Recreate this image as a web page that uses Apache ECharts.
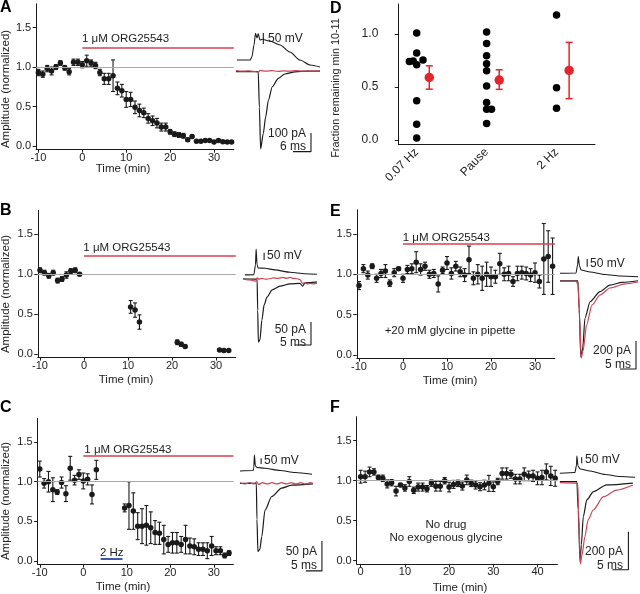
<!DOCTYPE html>
<html><head><meta charset="utf-8">
<script src="https://cdn.jsdelivr.net/npm/echarts@6/dist/echarts.min.js"></script>
<style>html,body{margin:0;padding:0;background:#fff}#c{width:640px;height:594px}</style>
</head><body><div id="c"></div>
<script>
// ---------------- DATA ----------------
const yTicks = [0, 0.5, 1.0, 1.5];
const xTicksMain = [-10, 0, 10, 20, 30];
const xTicksF = [0, 10, 20, 30, 40];

// Panel A
const timesA = [-10,-9,-8,-7,-6,-5,-4,-3,-2,-1,0,1,2,3,4,5,6,7,8,9,10,11,12,13,14,15,16,17,18,19,20,21,22,23,24,25,26,27,28,29,30,31,32,33,34];
const ampA = [0.93,0.91,0.98,0.95,1.00,1.05,0.99,0.94,1.06,1.06,1.03,1.08,1.05,1.02,0.93,0.85,0.85,0.89,0.73,0.70,0.59,0.59,0.49,0.45,0.42,0.35,0.32,0.29,0.24,0.24,0.18,0.15,0.14,0.13,0.08,0.12,0.06,0.06,0.07,0.07,0.05,0.07,0.055,0.05,0.05];
const errA = [0.04,0.04,0.04,0.05,0.03,0.03,0.03,0.04,0.04,0.04,0.04,0.07,0.04,0.04,0.04,0.07,0.07,0.20,0.08,0.08,0.10,0.09,0.08,0.08,0.06,0.06,0.06,0.06,0.05,0.05,0.03,0.03,0.03,0.03,0.02,0.02,0.01,0.01,0.01,0.01,0.01,0.01,0.01,0.01,0.01];

// Panel B
const timesB = [-10,-9,-8,-7,-6,-5,-4,-3,-2,-1,10.6,11.6,12.6,21.2,22.1,23.0,30.8,31.8,32.9];
const ampB = [1.05,1.02,0.98,1.02,0.92,0.94,0.99,1.04,1.05,1.00,0.59,0.55,0.40,0.146,0.12,0.092,0.05,0.042,0.042];
const errB = [0.03,0.03,0.03,0.03,0.03,0.03,0.04,0.03,0.03,0,0.08,0.09,0.09,0.03,0.025,0.015,0.01,0.01,0.01];

// Panel C
const timesC = [-10,-9,-8,-7,-6,-5,-4,-3,-2,-1,0,1,2,3,9.5,10.5,11.5,12.5,13.5,14.5,15.5,16.5,17.5,18.5,19.5,20.5,21.5,22.5,23.5,24.5,25.5,26.5,27.5,28.5,29.5,30.5,31.5,32.5,33.5];
const ampC = [1.16,0.98,1.00,0.90,0.87,0.99,0.85,1.17,1.02,1.09,1.01,1.03,0.84,1.15,0.67,0.70,0.63,0.44,0.44,0.45,0.42,0.36,0.35,0.27,0.21,0.23,0.23,0.21,0.27,0.19,0.18,0.15,0.15,0.13,0.19,0.13,0.13,0.07,0.10];
const errC = [0.10,0.06,0.13,0.15,0.03,0.07,0.10,0.15,0.06,0.06,0.10,0.07,0.12,0.12,0.05,0.30,0.23,0.17,0.22,0.25,0.20,0.15,0.14,0.18,0.10,0.13,0.13,0.10,0.18,0.10,0.10,0.08,0.08,0.10,0.12,0.05,0.05,0.03,0.03];
const pulse2Hz = {start: 4, end: 9, level: 0.025};

// Panel E
const timesE = [-10,-9,-8,-7,-6,-5,-4,-3,-2,-1,0,1,2,3,4,5,6,7,8,9,10,11,12,13,14,15,16,17,18,19,20,21,22,23,24,25,26,27,28,29,30,31,32,33,34];
const ampE = [0.86,1.07,0.99,1.10,0.95,1.01,1.04,0.89,1.02,1.07,0.95,1.06,1.07,1.15,1.06,1.10,1.00,1.01,0.88,1.05,1.14,1.01,1.10,1.03,0.99,1.18,0.95,1.00,0.95,1.00,0.97,0.97,1.13,1.00,1.01,0.91,1.01,1.02,1.01,0.99,1.02,0.91,1.19,1.22,1.10];
const errE = [0.05,0.05,0.05,0.03,0.05,0.05,0.08,0.04,0.05,0.02,0.05,0.05,0.06,0.13,0.07,0.05,0.05,0.05,0.10,0.04,0.08,0.07,0.06,0.06,0.08,0.17,0.08,0.12,0.15,0.15,0.12,0.08,0.13,0.08,0.09,0.06,0.09,0.08,0.08,0.08,0.12,0.08,0.44,0.32,0.35];

// Panel F
const timesF = [0,1,2,3,4,5,6,7,8,9,10,11,12,13,14,15,16,17,18,19,20,21,22,23,24,25,26,27,28,29,30,31,32,33,34,35,36,37,38,39,40,41,42,43,44];
const ampF = [1.05,1.05,1.11,1.11,1.04,1.03,0.96,0.975,0.87,0.946,0.91,0.99,0.88,0.92,0.92,0.90,0.97,0.93,0.93,1.00,0.92,0.954,0.967,0.933,1.01,0.967,0.946,0.925,0.946,0.967,0.925,0.99,1.09,1.09,1.08,1.02,1.02,1.08,1.06,1.06,1.03,1.04,1.11,1.06,1.03];
const errF = [0.08,0.07,0.06,0.04,0.03,0.04,0.05,0.04,0.06,0.02,0.04,0.06,0.04,0.05,0.05,0.04,0.04,0.06,0.06,0.04,0.06,0.05,0.04,0.05,0.06,0.04,0.05,0.05,0.06,0.10,0.06,0.04,0.07,0.07,0.05,0.06,0.06,0.08,0.06,0.07,0.08,0.09,0.10,0.12,0.10];

// Drug application (start time, drawn level)
const drugA = {start: 0, level: 1.25};
const drugB = {start: 0, level: 1.23};
const drugC = {start: 0, level: 1.33};
const drugE = {start: 0, level: 1.38};

// Panel D
const catD = ['0.07 Hz', 'Pause', '2 Hz'];
const slowD = [1.01,0.82,0.74,0.745,0.71,0.755,0.37,0.15,0.02];
const slowDjit = [0,0,-0.105,-0.05,0,0.09,0,0,0];
const pauseD = [1.02,0.91,0.795,0.72,0.654,0.51,0.355,0.29,0.29,0.157];
const pauseDjit = [0,0,0,0,0,0,0,0,0.07,0];
const fastD = [1.18,0.494,0.30];
const fastDjit = [0,0,0];
const meanD = [0.59,0.566,0.657];
const loD = [0.48,0.478,0.39];
const hiD = [0.70,0.663,0.921];

// Traces: [ms, mV] voltage, [ms, pA] currents
const traceA_V = [[0.3,-70],[4.7,-70],[5.3,-56],[6,-2],[6.5,51],[7,30],[7.4,50],[8,21],[8.7,24],[11.3,16],[14.7,-2],[18,-34],[21.3,-70],[24.7,-93],[28,-102]];
const traceA_black = [[0,-8],[7.4,-8],[7.8,-200],[8.2,-422],[9.1,-338],[9.9,-249],[10.8,-160],[12.1,-89],[14.1,-44],[16.3,-21],[19.7,-9],[24.1,-5],[28,-5]];
const traceA_red = [[0,-3],[2,-6],[4,-4],[6,-7],[7.4,-11],[8,-2],[10,-6],[12,-3],[14,-7],[16,-4],[18,-6],[20,-3],[22,-6],[24,-4],[26,-6],[28,-4]];

const traceB_V = [[0.6,-74],[3.4,-72],[3.9,-6],[4.1,103],[4.4,-6],[4.7,-27],[6.9,-29],[10,-40],[14.7,-56],[19.4,-66],[23.1,-70]];
const traceB_black = [[0,-1],[4.4,-2],[4.6,-70],[4.8,-139],[5.3,-134],[5.9,-91],[6.6,-58],[7.5,-41],[9.1,-25],[11.6,-17],[14.7,-12],[17.8,-11],[18.6,-17],[19.4,-10],[23.1,-8]];
const traceB_red = [[0,-1.5],[1,-3],[2.2,-3.7],[3,-5],[4.1,-6],[4.4,1],[5,-2],[5.9,0],[7,-2],[8.4,-1],[9.5,1],[11,0],[12.5,2],[13.5,0],[14.7,2],[15.5,0],[16.6,-0.5],[17.8,-2.6],[18.6,-11],[19.4,-10],[20.2,-12],[20.9,-11],[22,-12],[23.1,-11]];

const traceC_V = [[0,-70],[4.1,-66],[4.3,-44],[4.5,70],[4.8,-26],[5.3,-39],[7.8,-46],[12.5,-66],[17.2,-83],[22.5,-99]];
const traceC_black = [[0,0],[5.1,0],[5.3,-60],[5.6,-114],[6.2,-110],[6.8,-89],[7.8,-45],[9.9,-22],[13,-8],[16.2,-3],[22.8,-1]];
const traceC_red = [[0,1],[1.5,-1],[3,1],[4.5,-1],[5.2,3],[5.8,-2],[7,1],[8.5,-1],[10,1],[11.5,-1],[13,1],[14.5,-1],[16,1],[17.5,-1],[19,1],[20.5,-1],[22,1],[22.8,0]];

const traceE_V = [[0,-70],[5,-68],[5.5,-16],[5.7,38],[6.1,-23],[6.6,-49],[9.4,-62],[14.1,-78],[18.8,-88],[24.4,-92]];
const traceE_black = [[0,2],[5.6,2],[6.0,-200],[6.5,-543],[7.1,-480],[7.8,-266],[9.4,-148],[12.5,-76],[15.6,-29],[19.4,-10],[24.4,2]];
const traceE_red = [[0,-2],[5.1,-2],[5.3,-15],[5.6,-12],[6.1,-250],[6.6,-550],[7.2,-500],[8.3,-314],[10,-171],[12.5,-100],[15.6,-50],[20.3,-21],[24.4,-7]];

const traceF_V = [[0.6,-70],[5.3,-63],[5.8,-1],[5.9,74],[6.25,-9],[6.9,-34],[10,-51],[14.7,-80],[19.4,-97],[24.1,-103]];
const traceF_black = [[0.6,0],[5.9,0],[6.3,-150],[6.9,-422],[7.3,-332],[7.9,-184],[9,-96],[11,-53],[15.2,-17],[23.4,-7]];
const traceF_red = [[0.6,-5],[5.9,-7],[6.2,-17],[6.4,-150],[7.0,-433],[7.5,-386],[8.4,-289],[9.4,-201],[11,-149],[14.2,-79],[18.3,-44],[23.4,-17]];

const scaleA = {mV: 50, pA: 100, ms: 6};
const scaleB = {mV: 50, pA: 50, ms: 5};
const scaleC = {mV: 50, pA: 50, ms: 5};
const scaleE = {mV: 50, pA: 200, ms: 5};
const scaleF = {mV: 50, pA: 200, ms: 5};

// ---------------- STYLE / LAYOUT ----------------
const FONT = '"Liberation Sans", Arial, Helvetica, sans-serif';
const BLACK = '#1a1a1a', GRAY = '#a8a8a8', RED = '#d8414b', TRED = '#cc4453', DRED = '#e2262c', BLUE = '#3b5aa8', TXT = '#222';

const grids = [], xAxes = [], yAxes = [], series = [], graphics = [];

function axisStyle(ticks, fmt, margin, fs) {
  return {
    axisLine: {show: true, onZero: false, lineStyle: {color: BLACK, width: 1}},
    axisTick: {show: true, length: 3.5, customValues: ticks, lineStyle: {color: BLACK, width: 1}},
    axisLabel: {show: true, customValues: ticks, formatter: fmt, fontFamily: FONT, fontSize: fs, color: TXT, margin: margin},
    splitLine: {show: false}
  };
}

function errRender(capHalf, color, width) {
  return function (params, api) {
    const x = api.value(0), lo = api.value(1), hi = api.value(2);
    if (!(hi - lo > 0)) return null;
    const a = api.coord([x, hi]), b = api.coord([x, lo]);
    const st = {stroke: color, lineWidth: width};
    return {type: 'group', children: [
      {type: 'line', shape: {x1: a[0], y1: a[1], x2: b[0], y2: b[1]}, style: st},
      {type: 'line', shape: {x1: a[0] - capHalf, y1: a[1], x2: a[0] + capHalf, y2: a[1]}, style: st},
      {type: 'line', shape: {x1: b[0] - capHalf, y1: b[1], x2: b[0] + capHalf, y2: b[1]}, style: st}
    ]};
  };
}

function mainPanel(L, times, amp, err, drug, xticks, extraMarks) {
  const gi = grids.length;
  grids.push(L.grid);
  const xi = xAxes.length;
  xAxes.push(Object.assign({type: 'value', gridIndex: gi, min: L.x[0], max: L.x[1]}, axisStyle(xticks, v => String(v), 3, 11)));
  const yi = yAxes.length;
  yAxes.push(Object.assign({type: 'value', gridIndex: gi, min: -0.04, max: 1.8}, axisStyle(yTicks, v => v.toFixed(1), 5, 11)));
  const pts = times.map((t, i) => [t, amp[i]]);
  const bars = times.map((t, i) => [t, amp[i] - err[i], amp[i] + err[i]]);
  const ml = [{yAxis: 1, lineStyle: {color: GRAY, width: 1.2, type: 'solid'}}];
  if (drug) ml.push([{coord: [drug.start, drug.level], lineStyle: {color: RED, width: 1.6, type: 'solid'}}, {coord: [L.x[1], drug.level]}]);
  (extraMarks || []).forEach(m => ml.push(m));
  series.push({type: 'custom', xAxisIndex: xi, yAxisIndex: yi, renderItem: errRender(2, BLACK, 1.1), data: bars,
    encode: {x: 0, y: [1, 2]}, z: 2, silent: true,
    markLine: {silent: true, symbol: ['none', 'none'], label: {show: false}, data: ml}});
  series.push({type: 'scatter', xAxisIndex: xi, yAxisIndex: yi, data: pts, symbolSize: 5.5,
    itemStyle: {color: BLACK, opacity: 1}, z: 3, silent: true});
}

function tracePanel(T) {
  const gi = grids.length; grids.push(T.grid);
  const xi = xAxes.length; xAxes.push({type: 'value', gridIndex: gi, min: 0, max: T.ms, show: false});
  const yv = yAxes.length; yAxes.push({type: 'value', gridIndex: gi, min: T.mV[0], max: T.mV[1], show: false});
  const yi = yAxes.length; yAxes.push({type: 'value', gridIndex: gi, min: T.pA[0], max: T.pA[1], show: false});
  const ln = (data, y, color, w, smooth) => ({type: 'line', xAxisIndex: xi, yAxisIndex: y, data: data, showSymbol: false, symbol: 'none',
    smooth: smooth, smoothMonotone: 'x', lineStyle: {color: color, width: w}, clip: false, silent: true, z: 2});
  series.push(ln(T.V, yv, BLACK, 1.1, 0.25));
  series.push(ln(T.black, yi, BLACK, 1.2, 0.25));
  series.push(ln(T.red, yi, TRED, 1.2, 0.25));
  const s = T.scale, b = T.bars;
  series.push(ln([[b.vT, b.vTop], [b.vT, b.vTop - s.mV]], yv, BLACK, 1.1, false));
  series.push(ln([[b.iT - s.ms, b.iTop - s.pA], [b.iT, b.iTop - s.pA], [b.iT, b.iTop]], yi, BLACK, 1.1, false));
}

function txt(x, y, text, o) {
  o = o || {};
  graphics.push({type: 'text', x: x, y: y, rotation: o.rot || 0, silent: true, z: 10,
    style: {text: text, font: (o.bold ? 'bold ' : '') + (o.fs || 11.5) + 'px ' + FONT, fill: o.color || TXT,
      textAlign: o.align || 'left', align: o.align || 'left', textVerticalAlign: 'middle', verticalAlign: 'middle'}});
}

// ---------------- BUILD ----------------
mainPanel({grid: {left: 36.2, top: 3.8, width: 197.6, height: 145.4}, x: [-10.5, 34.5]}, timesA, ampA, errA, drugA, xTicksMain);
mainPanel({grid: {left: 37.8, top: 210.5, width: 198, height: 146.6}, x: [-10.5, 34.5]}, timesB, ampB, errB, drugB, xTicksMain);
mainPanel({grid: {left: 37.6, top: 418.3, width: 195.8, height: 145.9}, x: [-10.5, 34.5]}, timesC, ampC, errC, drugC, xTicksMain,
  [[{coord: [pulse2Hz.start, pulse2Hz.level], lineStyle: {color: BLUE, width: 2, type: 'solid'}}, {coord: [pulse2Hz.end, pulse2Hz.level]}]]);
mainPanel({grid: {left: 356.8, top: 209.8, width: 198, height: 148.3}, x: [-10.5, 34.5]}, timesE, ampE, errE, drugE, xTicksMain);
mainPanel({grid: {left: 356.7, top: 416.7, width: 200.7, height: 147.2}, x: [-0.9, 44.5]}, timesF, ampF, errF, null, xTicksF);

// Panel D
(function () {
  const gi = grids.length;
  grids.push({left: 398.3, top: 4, width: 196.7, height: 140.3});
  const xi = xAxes.length;
  const catPos = [1, 2, 3], meanOff = 0.18;
  xAxes.push({type: 'value', gridIndex: gi, min: 0.737, max: 3.55,
    axisLine: {show: true, onZero: false, lineStyle: {color: BLACK, width: 1}},
    axisTick: {show: false},
    axisLabel: {show: true, customValues: catPos, formatter: v => catD[Math.round(v) - 1], rotate: 45, margin: 6, fontFamily: FONT, fontSize: 12, color: TXT},
    splitLine: {show: false}});
  const yi = yAxes.length;
  yAxes.push(Object.assign({type: 'value', gridIndex: gi, min: -0.04, max: 1.283}, axisStyle([0, 0.5, 1.0], v => v.toFixed(1), 20, 12)));
  const groups = [[slowD, slowDjit], [pauseD, pauseDjit], [fastD, fastDjit]];
  const black = [];
  groups.forEach((g, k) => g[0].forEach((v, i) => black.push([catPos[k] + g[1][i], v])));
  series.push({type: 'scatter', xAxisIndex: xi, yAxisIndex: yi, data: black, symbolSize: 7.5,
    itemStyle: {color: '#000', opacity: 1}, z: 3, silent: true});
  series.push({type: 'custom', xAxisIndex: xi, yAxisIndex: yi, renderItem: errRender(3.5, DRED, 1.5),
    data: meanD.map((m, k) => [catPos[k] + meanOff, loD[k], hiD[k]]), encode: {x: 0, y: [1, 2]}, z: 2, silent: true});
  series.push({type: 'scatter', xAxisIndex: xi, yAxisIndex: yi, data: meanD.map((m, k) => [catPos[k] + meanOff, m]),
    symbolSize: 9.5, itemStyle: {color: DRED, opacity: 1}, z: 4, silent: true});
})();

// Traces
tracePanel({grid: {left: 236, top: 20, width: 84, height: 140}, ms: 28, mV: [-524.6, 111.8], pA: [-480.8, 267.9],
  V: traceA_V, black: traceA_black, red: traceA_red, scale: scaleA, bars: {vT: 9.1, vTop: 52.7, iT: 25, iTop: -336}});
tracePanel({grid: {left: 243, top: 235, width: 75, height: 115}, ms: 23.44, mV: [-588.5, 199.2], pA: [-155.9, 94.1],
  V: traceB_V, black: traceB_black, red: traceB_red, scale: scaleB, bars: {vT: 6.6, vTop: 78, iT: 21.25, iTop: -95}});
tracePanel({grid: {left: 240, top: 440, width: 85, height: 135}, ms: 26.56, mV: [-982.3, 201.9], pA: [-152.8, 72.2],
  V: traceC_V, black: traceC_black, red: traceC_red, scale: scaleC, bars: {vT: 6.6, vTop: 41.4, iT: 25.6, iTop: -96}});
tracePanel({grid: {left: 560, top: 240, width: 80, height: 135}, ms: 25, mV: [-730.4, 146.2], pA: [-671.4, 292.9],
  V: traceE_V, black: traceE_black, red: traceE_red, scale: scaleE, bars: {vT: 8.5, vTop: 22.9, iT: 23.75, iTop: -428.6}});
tracePanel({grid: {left: 558, top: 440, width: 80, height: 135}, ms: 25, mV: [-917.5, 207.5], pA: [-491, 219.5],
  V: traceF_V, black: traceF_black, red: traceF_red, scale: scaleF, bars: {vT: 7.4, vTop: 63.3, iT: 22, iTop: -263}});

// Texts
[['A', 0, 7.5], ['B', 0, 210.8], ['C', 0, 407.5], ['D', 330, 8.7], ['E', 330, 211.7], ['F', 330, 407.5]]
  .forEach(p => txt(p[1], p[2], p[0], {bold: true, fs: 16, color: '#000'}));
txt(6, 89, 'Amplitude (normalized)', {rot: Math.PI / 2, align: 'center', fs: 11.5});
txt(6, 294, 'Amplitude (normalized)', {rot: Math.PI / 2, align: 'center', fs: 11.5});
txt(6, 501, 'Amplitude (normalized)', {rot: Math.PI / 2, align: 'center', fs: 11.5});
txt(336, 88, 'Fraction remaining min 10-11', {rot: Math.PI / 2, align: 'center', fs: 10.8});
txt(123, 169, 'Time (min)', {align: 'center', fs: 11.5});
txt(126, 380, 'Time (min)', {align: 'center', fs: 11.5});
txt(123, 587, 'Time (min)', {align: 'center', fs: 11.5});
txt(450, 381, 'Time (min)', {align: 'center', fs: 11.5});
txt(460, 588, 'Time (min)', {align: 'center', fs: 11.5});
txt(82, 39, '1 μM ORG25543', {fs: 11.5});
txt(83.3, 248.3, '1 μM ORG25543', {fs: 11.5});
txt(84.3, 450, '1 μM ORG25543', {fs: 11.5});
txt(402.7, 237.7, '1 μM ORG25543', {fs: 11.5});
txt(111.7, 552.7, '2 Hz', {align: 'center', fs: 11.5});
txt(450, 331, '+20 mM glycine in pipette', {align: 'center', fs: 11.5});
txt(446, 525, 'No drug', {align: 'center', fs: 11.5});
txt(446, 538.3, 'No exogenous glycine', {align: 'center', fs: 11.5});
// trace scale labels
txt(268, 38.3, '50 mV', {fs: 12}); txt(306, 133.3, '100 pA', {align: 'right', fs: 12}); txt(306, 146.7, '6 ms', {align: 'right', fs: 12});
txt(267, 256, '50 mV', {fs: 12}); txt(306, 330, '50 pA', {align: 'right', fs: 12}); txt(306, 343, '5 ms', {align: 'right', fs: 12});
txt(264, 460.7, '50 mV', {fs: 12}); txt(317, 552, '50 pA', {align: 'right', fs: 12}); txt(317, 566, '5 ms', {align: 'right', fs: 12});
txt(590, 263.3, '50 mV', {fs: 12}); txt(631, 350.7, '200 pA', {align: 'right', fs: 12}); txt(631, 364.5, '5 ms', {align: 'right', fs: 12});
txt(585, 460, '50 mV', {fs: 12}); txt(623, 552, '200 pA', {align: 'right', fs: 12}); txt(623, 566, '5 ms', {align: 'right', fs: 12});

const chart = echarts.init(document.getElementById('c'), null, {renderer: 'canvas'});
chart.setOption({
  animation: false,
  backgroundColor: '#fff',
  textStyle: {fontFamily: FONT},
  grid: grids, xAxis: xAxes, yAxis: yAxes, series: series, graphic: graphics
});
</script></body></html>
